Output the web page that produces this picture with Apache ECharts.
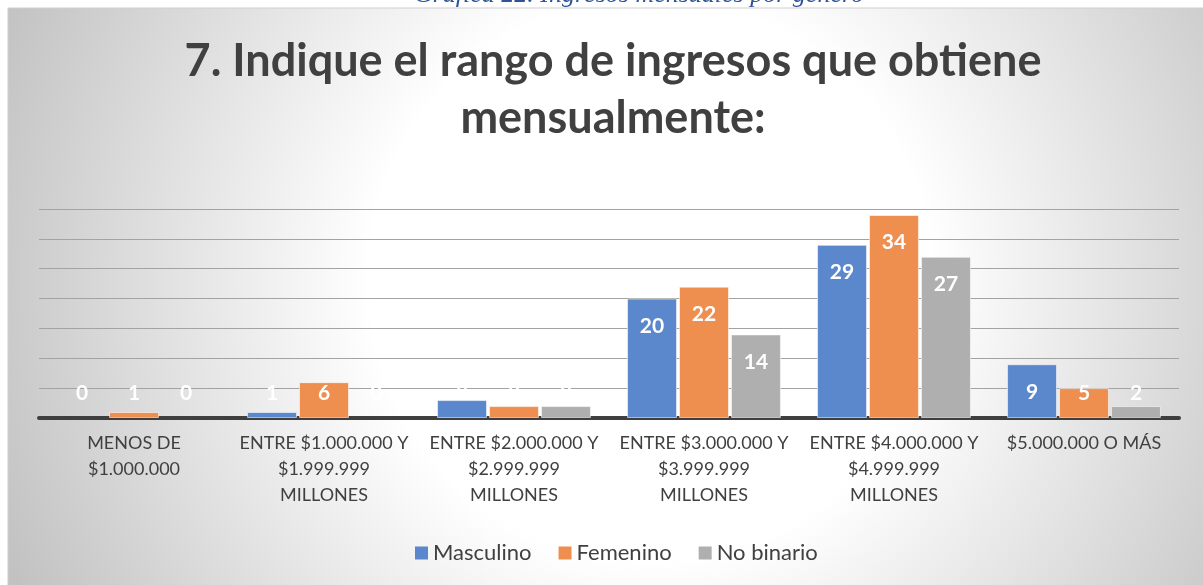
<!DOCTYPE html>
<html>
<head>
<meta charset="utf-8">
<script src="https://cdn.jsdelivr.net/npm/echarts@6/dist/echarts.min.js"></script>
<style>
html,body{margin:0;padding:0;background:#fff}
#chart{width:1203px;height:585px}
</style>
</head>
<body>
<div id="chart"></div>
<script>
let categorias = [
  'MENOS DE\n$1.000.000',
  'ENTRE $1.000.000 Y\n$1.999.999\nMILLONES',
  'ENTRE $2.000.000 Y\n$2.999.999\nMILLONES',
  'ENTRE $3.000.000 Y\n$3.999.999\nMILLONES',
  'ENTRE $4.000.000 Y\n$4.999.999\nMILLONES',
  '$5.000.000 O MÁS'
]
let masculino = [0, 1, 3, 20, 29, 9]
let femenino = [1, 6, 2, 22, 34, 5]
let noBinario = [0, 0, 2, 14, 27, 2]
let nombres = ['Masculino', 'Femenino', 'No binario']
let colores = ['#5B87CD', '#EF8F4F', '#AFAFAF']

// etiqueta dentro arriba si la barra es alta, si no queda a la altura minima
function conEtiquetas(valores) {
  return valores.map(v => ({
    value: v,
    itemStyle: v === 0 ? {borderWidth: 0} : {},
    label: v >= 8 ? {position: 'insideTop', distance: 17} : {position: 'insideBottom', distance: 14}
  }))
}

let datos = [masculino, femenino, noBinario]
let series = datos.map((valores, i) => ({
  name: nombres[i],
  type: 'bar',
  barGap: '4%',
  barCategoryGap: '19%',
  itemStyle: {color: colores[i], borderColor: 'rgba(255,255,255,0.55)', borderWidth: 1},
  label: {
    show: true,
    color: '#fff',
    fontSize: 21,
    fontWeight: 'bold',
    fontFamily: 'Lato'
  },
  data: conEtiquetas(valores)
}))

let myChart = echarts.init(document.getElementById('chart'))
let option = {
  animation: false,
  graphic: [
    {
      type: 'rect',
      z: -10,
      shape: {x: 8, y: 8, width: 1230, height: 600},
      style: {
        fill: new echarts.graphic.RadialGradient(650, 280, 700, [
          {offset: 0, color: '#ffffff'},
          {offset: 0.4, color: '#ffffff'},
          {offset: 1, color: '#c2c2c2'}
        ], true),
        stroke: '#cfcfcf',
        lineWidth: 1
      }
    },
    {
      type: 'text',
      z: -5,
      style: {
        text: 'Gráfica 22. Ingresos mensuales por género',
        x: 639,
        y: 8,
        textAlign: 'center',
        textVerticalAlign: 'bottom',
        font: 'italic 26px "Liberation Serif"',
        fill: '#2F5496'
      }
    }
  ],
  title: {
    text: '7. Indique el rango de ingresos que obtiene\nmensualmente:',
    left: 608,
    top: 28,
    textAlign: 'center',
    textStyle: {
      fontFamily: 'Lato',
      fontSize: 45,
      fontWeight: 'bold',
      lineHeight: 57,
      color: '#404040'
    }
  },
  legend: {
    data: nombres,
    top: 537,
    left: 410,
    icon: 'rect',
    itemWidth: 13,
    itemHeight: 13,
    itemGap: 27,
    itemStyle: {borderWidth: 0},
    textStyle: {fontFamily: 'Lato', fontSize: 22, color: '#404040'}
  },
  grid: {left: 39, right: 24, top: 209, bottom: 167},
  xAxis: {
    type: 'category',
    data: categorias,
    axisLine: {lineStyle: {color: '#3f3f3f', width: 4}},
    axisTick: {show: false},
    axisLabel: {
      interval: 0,
      margin: 12,
      lineHeight: 26,
      fontFamily: 'Lato',
      fontSize: 18,
      color: '#404040'
    }
  },
  yAxis: {
    type: 'value',
    min: 0,
    max: 35,
    interval: 5,
    axisLabel: {show: false},
    axisLine: {show: false},
    axisTick: {show: false},
    splitLine: {lineStyle: {color: '#a3a3a3', width: 1}}
  },
  series: series
}
myChart.setOption(option)
</script>
</body>
</html>
